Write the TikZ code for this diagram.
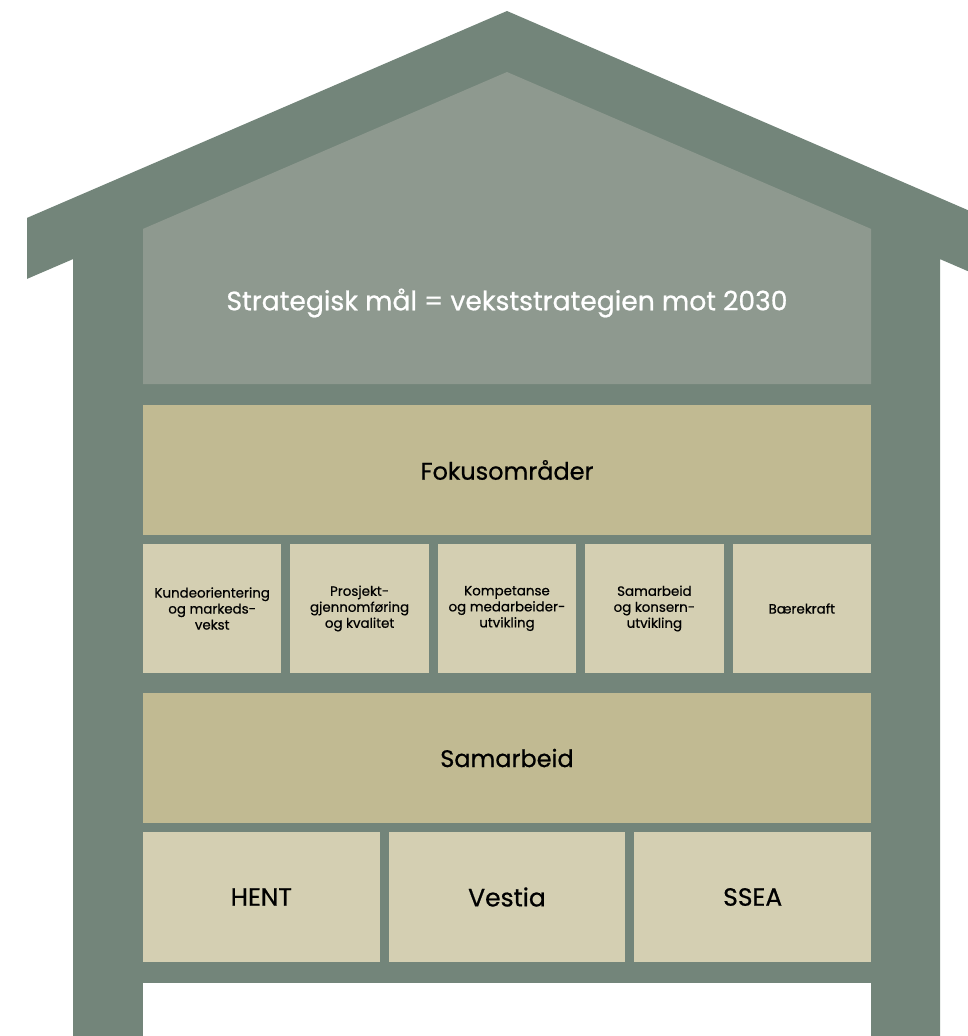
\documentclass[tikz,border=0pt]{standalone}
\usepackage{fontspec}
\setmainfont{Poppins}[FakeBold=0.7]
\definecolor{housegreen}{RGB}{115,133,122}
\definecolor{panelgreen}{RGB}{142,153,143}
\definecolor{bandtan}{RGB}{193,186,146}
\definecolor{boxtan}{RGB}{212,207,178}
\begin{document}
\begin{tikzpicture}[x=1pt,y=-1pt,
  band/.style={fill=bandtan, draw=none, minimum width=728pt, minimum height=130pt, inner sep=0pt, font=\fontsize{24}{28}\selectfont, text=black},
  smallbox/.style={fill=boxtan, draw=none, minimum width=138.4pt, minimum height=129pt, inner sep=0pt, align=center, font=\fontsize{13.4}{16}\selectfont, text=black},
  compbox/.style={fill=boxtan, draw=none, minimum width=236.7pt, minimum height=130pt, inner sep=0pt, font=\fontsize{25}{28}\selectfont, text=black}]
\useasboundingbox (0,0) rectangle (968,1036);
\clip (0,0) rectangle (968,1036);
% house body and roof
\fill[housegreen] (507,11) -- (27,217.9) -- (27,278.9) -- (73,259.1) -- (73,1036) -- (940,1036) -- (940,259.1) -- (987,279.4) -- (987,218.4) -- cycle;
% top panel
\fill[panelgreen] (507,72) -- (143,228.9) -- (143,384) -- (871,384) -- (871,228.9) -- cycle;
\node[text=white, font=\fontsize{26.6}{30}\selectfont] (goal) at (507,303) {Strategisk mål = vekststrategien mot 2030};
% bands
\node[band] (fokus) at (507,470) {Fokusområder};
\node[smallbox] (f1) at (212.2,608.5) {Kundeorientering\\og markeds-\\vekst};
\node[smallbox] (f2) at (359.6,608.5) {Prosjekt-\\gjennomføring\\og kvalitet};
\node[smallbox] (f3) at (507,608.5) {Kompetanse\\og medarbeider-\\utvikling};
\node[smallbox] (f4) at (654.4,608.5) {Samarbeid\\og konsern-\\utvikling};
\node[smallbox] (f5) at (801.8,608.5) {Bærekraft};
\node[band] (samarbeid) at (507,758) {Samarbeid};
\node[compbox] (hent) at (261.3,897) {HENT};
\node[compbox] (vestia) at (507,897) {Vestia};
\node[compbox] (ssea) at (752.7,897) {SSEA};
% white floor
\fill[white] (143,983) rectangle (871,1040);
\end{tikzpicture}
\end{document}
